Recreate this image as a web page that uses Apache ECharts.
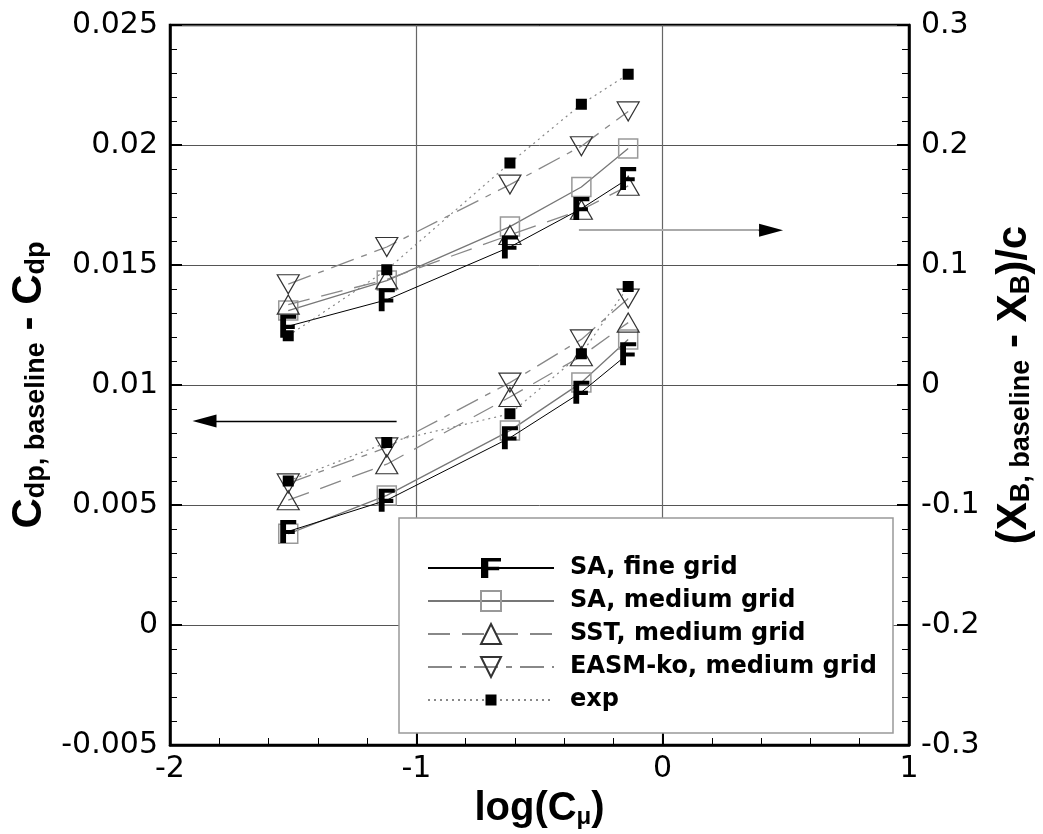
<!DOCTYPE html>
<html>
<head>
<meta charset="utf-8">
<script src="https://cdn.jsdelivr.net/npm/echarts@6/dist/echarts.min.js"></script>
<style>
html,body{margin:0;padding:0;background:#fff;}
#main{width:1043px;height:834px;}
</style>
</head>
<body>
<div id="main"></div>
<script>
// log(Cmu) stations
var logCmu=[-1.52,-1.12,-0.62,-0.33,-0.14];

// Cdp,baseline - Cdp  (left axis)
var cdpFine=[0.0039,0.0052,0.0078,0.0097,0.0113];
var cdpSAmed=[0.0038,0.0054,0.0081,0.0101,0.0119];
var cdpSST=[0.0052,0.0067,0.0095,0.0112,0.0126];
var cdpEASM=[0.0059,0.0074,0.0101,0.0119,0.0136];
var cdpExp=[0.0060,0.0076,0.0088,0.0113,0.0141];

// (XB,baseline - XB)/c  (right axis)
var xbFine=[0.049,0.071,0.115,0.147,0.172];
var xbSAmed=[0.062,0.087,0.132,0.165,0.197];
var xbSST=[0.067,0.088,0.125,0.146,0.166];
var xbEASM=[0.084,0.115,0.167,0.199,0.228];
var xbExp=[0.041,0.096,0.185,0.234,0.259];

var names=['SA, fine grid','SA, medium grid','SST, medium grid','EASM-ko, medium grid','exp'];

// arrows in data coords
var leftArrow=[[-1.08,0.0085],[-1.86,0.0085]];
var rightArrow=[[-0.34,0.129],[0.44,0.129]];

var F_PATH='path://M0,0H11V3H4V7.5H10V10.5H4V17H0Z';
var INV_TRI='path://M0,0L20,0L10,18Z';
// small filled square padded inside a 20x20 box (so legend icon stays small)
var EXP_SQ='path://M0,0L0.01,0M20,20L19.99,20M4.5,4.5H15.5V15.5H4.5Z';

function pairs(xs,ys){
    var out=[];
    for(var i=0;i<xs.length;i++){ out.push([xs[i],ys[i]]); }
    return out;
}

var styles=[
    {symbol:F_PATH,size:[16,23],item:{color:'#000'},line:{color:'#000',width:1,type:'solid'}},
    {symbol:'rect',size:19,item:{color:'rgba(255,255,255,0)',borderColor:'#999',borderWidth:1.5},line:{color:'#777',width:1.3,type:'solid'}},
    {symbol:'triangle',size:[22,19],item:{color:'rgba(255,255,255,0)',borderColor:'#333',borderWidth:1.2},line:{color:'#888',width:1.3,type:[22,12]}},
    {symbol:INV_TRI,size:[22,19],item:{color:'rgba(255,255,255,0)',borderColor:'#333',borderWidth:1.2},line:{color:'#888',width:1.3,type:[24,8,6,8]}},
    {symbol:EXP_SQ,size:20,item:{color:'#000'},line:{color:'#888',width:1.2,type:[2,4]}}
];
var lowSets=[cdpFine,cdpSAmed,cdpSST,cdpEASM,cdpExp];
var highSets=[xbFine,xbSAmed,xbSST,xbEASM,xbExp];
var drawOrder=[1,2,3,0,4];

var series=[];
for(var k=0;k<drawOrder.length;k++){
    var i=drawOrder[k];
    var s=styles[i];
    [[lowSets[i],0],[highSets[i],1]].forEach(function(g){
        series.push({
            name:names[i],
            type:'line',
            yAxisIndex:g[1],
            data:pairs(logCmu,g[0]),
            symbol:s.symbol,
            symbolSize:s.size,
            showAllSymbol:true,
            itemStyle:s.item,
            lineStyle:s.line,
            z:3+k
        });
    });
}

// arrows
series.push({
    type:'line',yAxisIndex:0,data:[],silent:true,
    markLine:{
        silent:true,animation:false,label:{show:false},
        symbol:['none','triangle'],symbolSize:[13,24],
        lineStyle:{color:'#000',width:1.3,type:'solid'},
        data:[[{coord:leftArrow[0]},{coord:leftArrow[1]}]]
    }
});
series.push({
    type:'line',yAxisIndex:1,data:[],silent:true,
    markLine:{
        silent:true,animation:false,label:{show:false},
        symbol:['none','none'],
        data:[
            [{coord:rightArrow[0],lineStyle:{color:'#aaa',width:2,type:'solid'}},{coord:rightArrow[1]}],
            [{coord:[rightArrow[1][0]-0.05,rightArrow[1][1]],lineStyle:{color:'#000',width:1.3,type:'solid'}},{coord:rightArrow[1],symbol:'triangle',symbolSize:[13,24]}]
        ]
    }
});

var labelFont={fontFamily:'DejaVu Sans',fontSize:30,color:'#000'};
var titleRich={
    a:{fontFamily:'Liberation Sans',fontWeight:'bold',fontSize:42,color:'#000'},
    b:{fontFamily:'Liberation Sans',fontWeight:'bold',fontSize:27,color:'#000',verticalAlign:'bottom'}
};
var xTitleRich={
    a:{fontFamily:'Liberation Sans',fontWeight:'bold',fontSize:40,color:'#000'},
    b:{fontFamily:'Liberation Sans',fontWeight:'bold',fontSize:24,color:'#000',verticalAlign:'bottom'}
};

var myChart=echarts.init(document.getElementById('main'));
var option={
    animation:false,
    backgroundColor:'#fff',
    grid:{left:170,right:134,top:25,bottom:89,containLabel:false,outerBoundsMode:'none',show:true,borderColor:'#000',borderWidth:2.5,backgroundColor:'transparent'},
    xAxis:{
        type:'value',min:-2,max:1,interval:1,
        name:'{a|log(C}{b|μ}{a|)}',nameLocation:'middle',nameGap:18,
        nameTextStyle:{rich:xTitleRich},
        axisLine:{show:true,onZero:false,lineStyle:{color:'#000',width:2.5}},
        axisTick:{show:true,inside:true,length:12,lineStyle:{color:'#000',width:2}},
        minorTick:{show:true,splitNumber:5,length:7,lineStyle:{color:'#000',width:1}},
        axisLabel:{show:true,margin:9,fontFamily:labelFont.fontFamily,fontSize:labelFont.fontSize,color:'#000'},
        splitLine:{show:true,lineStyle:{color:'#666',width:1.2}}
    },
    yAxis:[{
        type:'value',min:-0.005,max:0.025,interval:0.005,position:'left',
        name:'{a|C}{b|dp, baseline}{a| - C}{b|dp}',nameLocation:'middle',nameGap:120,nameRotate:90,
        nameTextStyle:{rich:titleRich},
        axisLine:{show:true,onZero:false,lineStyle:{color:'#000',width:2.5}},
        axisTick:{show:true,inside:true,length:12,lineStyle:{color:'#000',width:2}},
        minorTick:{show:true,splitNumber:5,length:7,lineStyle:{color:'#000',width:1}},
        axisLabel:{show:true,margin:12,fontFamily:labelFont.fontFamily,fontSize:labelFont.fontSize,color:'#000'},
        splitLine:{show:true,lineStyle:{color:'#555',width:1}}
    },{
        type:'value',min:-0.3,max:0.3,interval:0.1,position:'right',
        name:'{a|(X}{b|B, baseline}{a| - X}{b|B}{a|)/c}',nameLocation:'middle',nameGap:84,nameRotate:90,
        nameTextStyle:{rich:titleRich},
        axisLine:{show:true,onZero:false,lineStyle:{color:'#000',width:2.5}},
        axisTick:{show:true,inside:true,length:12,lineStyle:{color:'#000',width:2}},
        minorTick:{show:true,splitNumber:5,length:7,lineStyle:{color:'#000',width:1}},
        axisLabel:{show:true,margin:12,fontFamily:labelFont.fontFamily,fontSize:labelFont.fontSize,color:'#000'},
        splitLine:{show:false}
    }],
    graphic:[{
        type:'rect',z:50,
        shape:{x:399,y:518,width:494,height:215},
        style:{fill:'#fff',stroke:'#999',lineWidth:1.5}
    }],
    legend:{
        z:60,
        orient:'vertical',
        left:422,top:551,
        itemWidth:126,itemHeight:25,itemGap:9,
        data:names,
        textStyle:{fontFamily:'DejaVu Sans',fontWeight:'bold',fontSize:24,color:'#000',padding:[0,0,0,11]}
    },
    series:series
};
myChart.setOption(option);
</script>
</body>
</html>
